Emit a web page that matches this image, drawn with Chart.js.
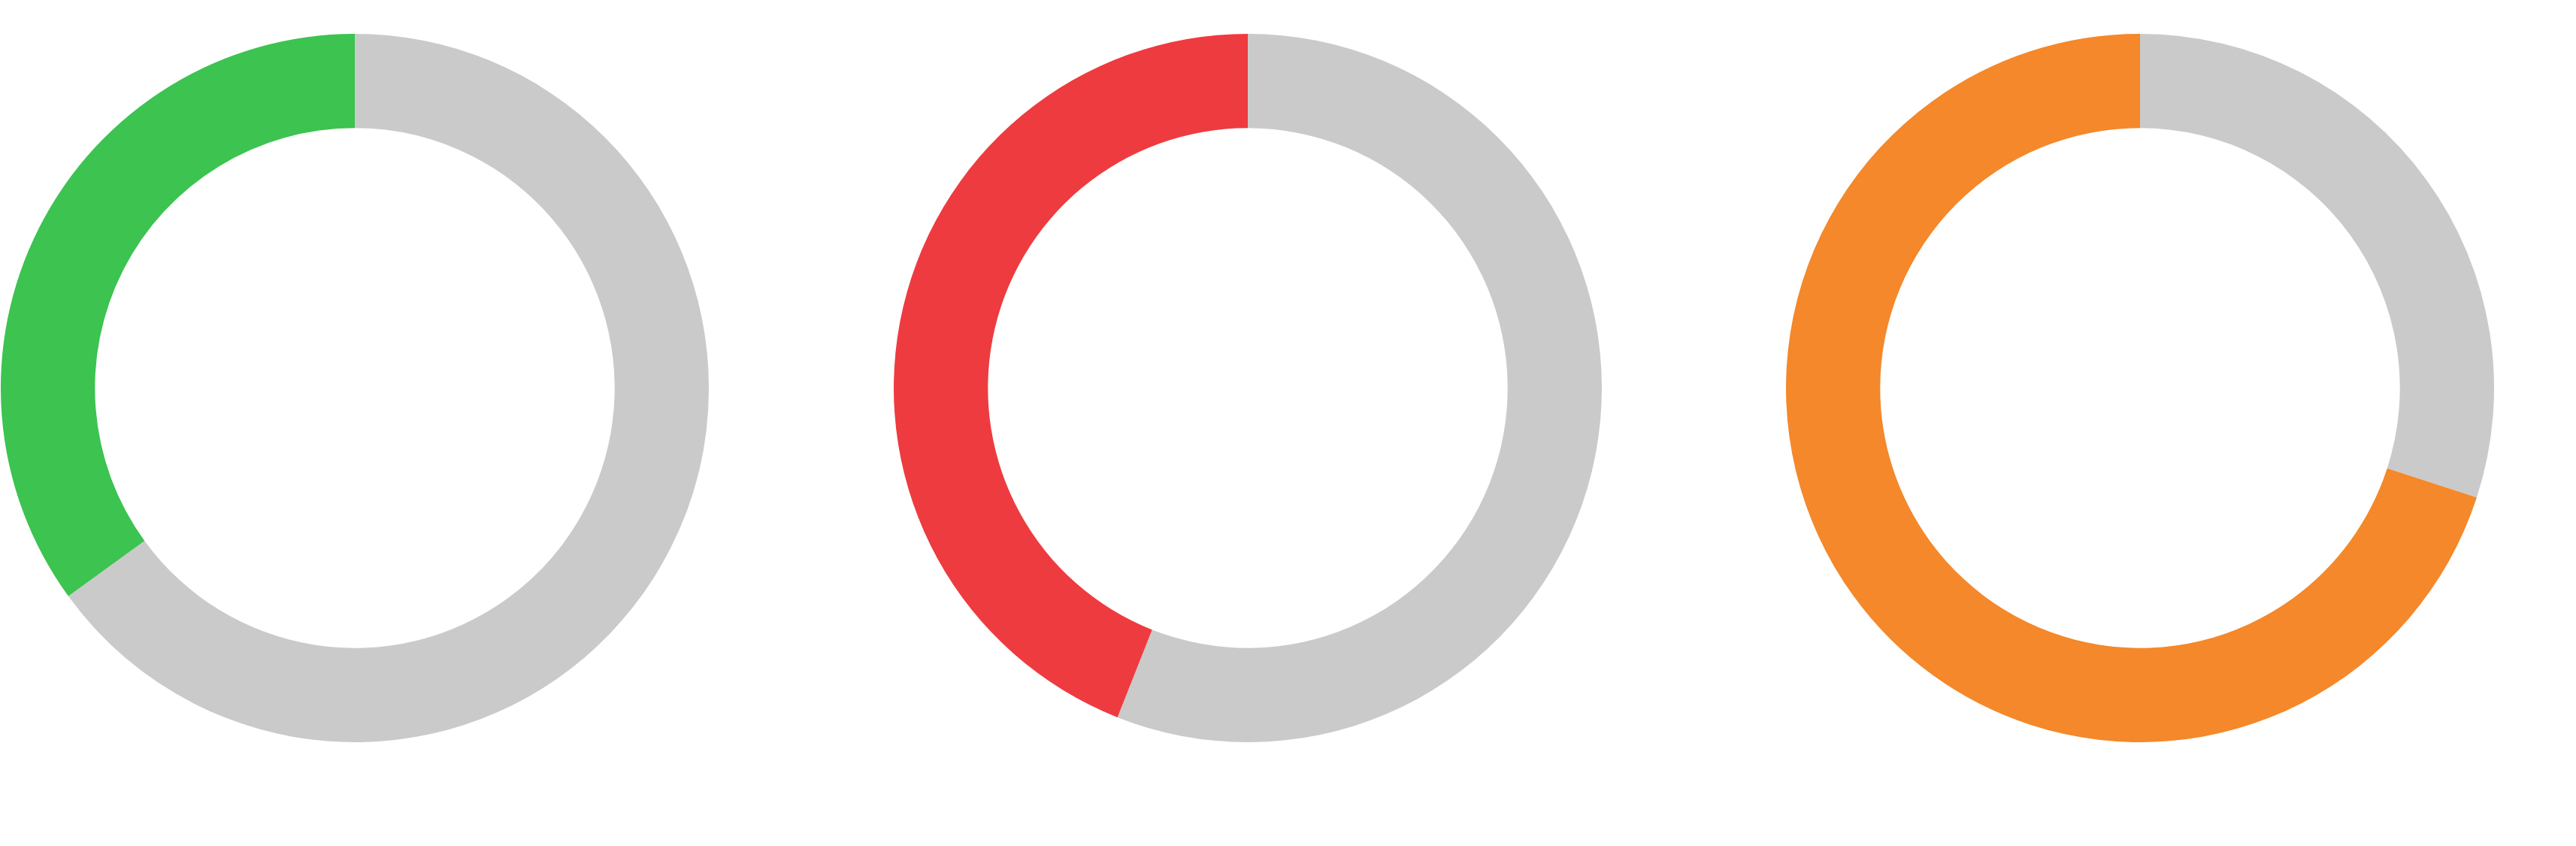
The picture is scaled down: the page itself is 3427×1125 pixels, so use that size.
<!DOCTYPE html>
<html>
<head>
<meta charset="utf-8">
<script src="https://cdn.jsdelivr.net/npm/chart.js@4"></script>
<style>
    html, body { margin: 0; padding: 0; background: #fff; }
    body { width: 3427px; height: 1125px; position: relative; overflow: hidden; }
    .ring { position: absolute; top: 45px; width: 942px; height: 942px; }
</style>
</head>
<body>
<div class="ring" style="left: 1px;"><canvas id="green-chart"></canvas></div>
<div class="ring" style="left: 1189px;"><canvas id="red-chart"></canvas></div>
<div class="ring" style="left: 2376px;"><canvas id="orange-chart"></canvas></div>
<script>
// =======================
// Data (percent done / remaining)
// =======================
const ringLabels = ["Remaining", "Done"];
const greenValues = [65, 35];
const redValues = [56, 44];
const orangeValues = [30, 70];

const trackColor = '#CACACA';

// =======================
// One ring per canvas
// =======================
function makeRing(selector, values, color) {
    const canvas = document.querySelector(selector);
    return new Chart(canvas, {
        type: 'doughnut',
        data: {
            labels: ringLabels,
            datasets: [{
                data: values,
                backgroundColor: [trackColor, color],
                borderWidth: 0,
                hoverOffset: 0,
                offset: 0
            }]
        },
        options: {
            responsive: true,
            maintainAspectRatio: false,
            cutout: '73.4%',
            animation: false,
            events: [],
            layout: { padding: 0 },
            plugins: {
                legend: { display: false },
                tooltip: { enabled: false }
            }
        }
    });
}

makeRing('#green-chart', greenValues, '#3CC350');
makeRing('#red-chart', redValues, '#EE3B3F');
makeRing('#orange-chart', orangeValues, '#F4882A');
</script>
</body>
</html>
